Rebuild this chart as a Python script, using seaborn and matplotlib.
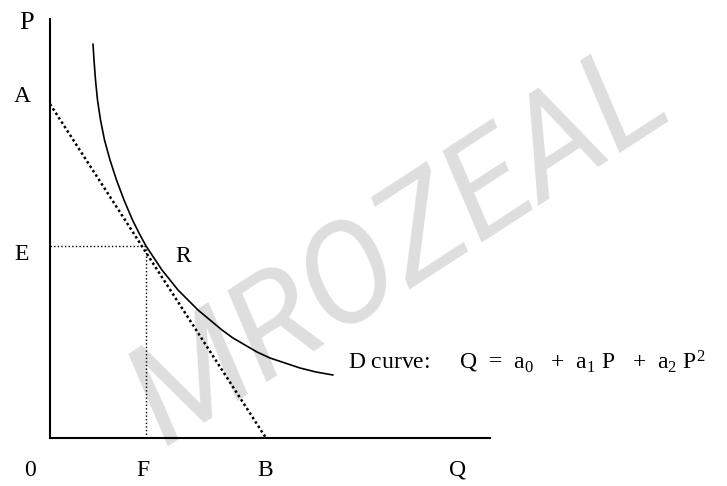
import matplotlib
matplotlib.use("Agg")
import matplotlib.pyplot as plt
import pandas as pd
import seaborn as sns

# Demand curve D, read as (quantity, price) pairs
demand_q = [4.30, 4.40, 4.55, 4.75, 5.05, 5.45, 6.00, 6.65, 7.40, 8.25, 8.90, 9.60,
            10.40, 11.20, 12.00, 12.80, 13.80, 14.80, 16.00, 17.20, 18.30, 19.50,
            20.70, 22.00, 23.50, 25.00, 26.60, 28.30]
demand_p = [39.4, 37.8, 35.8, 33.8, 31.8, 29.8, 27.8, 25.8, 23.8, 21.8, 20.5, 19.2,
            18.0, 16.8, 15.8, 14.8, 13.8, 12.8, 11.8, 10.8, 10.0, 9.3,
            8.6, 8.0, 7.5, 7.0, 6.6, 6.3]

# Tangent line through R: price intercept A, quantity intercept B
price_a = 33.4
quantity_b = 21.6

# Point R on the curve: price E, quantity F
price_e = 19.2
quantity_f = 9.6

# Axis extents
q_max = 44.0
p_max = 41.9

sns.set_theme(style="white")
plt.rcParams["font.family"] = ["Liberation Serif", "DejaVu Serif"]
plt.rcParams["mathtext.fontset"] = "custom"
plt.rcParams["mathtext.rm"] = "Liberation Serif"
plt.rcParams["mathtext.it"] = "Liberation Serif:italic"

fig = plt.figure(figsize=(7.27, 4.86), dpi=100)
ax = fig.add_axes([50 / 727, 48 / 486, 440 / 727, 419 / 486])
ax.set_zorder(2)
ax.set_xlim(0, q_max)
ax.set_ylim(0, p_max)

# faint watermark behind the diagram
fig.text(0.55, 0.49, "MROZEAL", color="#dedede", fontsize=100, rotation=33,
         ha="center", va="center", family="Roboto", fontweight="normal",
         style="italic", zorder=0)

curve = pd.DataFrame({"Q": demand_q, "P": demand_p})
sns.lineplot(data=curve, x="Q", y="P", sort=False, color="black", lw=1.2, ax=ax,
             estimator=None, zorder=3, solid_joinstyle="round")

# tangent line A-B
sns.lineplot(x=[0, quantity_b], y=[price_a, 0], color="black", lw=1.8,
             linestyle=(0, (1, 1.1)), ax=ax, zorder=3, clip_on=False)

# guide lines from R to the axes
ax.plot([0, quantity_f], [price_e, price_e], color="black", lw=1.0,
        linestyle=(0, (1, 1.6)), zorder=2)
ax.plot([quantity_f, quantity_f], [0, price_e], color="black", lw=1.0,
        linestyle=(0, (1, 1.6)), zorder=2)

for side in ["top", "right"]:
    ax.spines[side].set_visible(False)
for side in ["left", "bottom"]:
    ax.spines[side].set_color("black")
    ax.spines[side].set_linewidth(1.5)
ax.set_xticks([])
ax.set_yticks([])
ax.set_xlabel("")
ax.set_ylabel("")
ax.patch.set_alpha(0)

fs = 17
lab = dict(fontsize=fs, color="black", ha="center", va="center", clip_on=False)
ax.text(-2.3, 41.5, "P", **{**lab, "fontsize": 19})
ax.text(-2.8, price_a + 0.7, "A", **lab)
ax.text(-2.8, price_e - 0.8, "E", **lab)
ax.text(13.3, price_e - 1.0, "R", **lab)
ax.text(-2.0, -3.2, "0", **lab)
ax.text(quantity_f - 0.3, -3.2, "F", **lab)
ax.text(quantity_b - 0.1, -3.2, "B", **lab)
ax.text(40.8, -3.2, "Q", **lab)
ax.text(29.8, 7.6,
        r"D curve:     Q  =  a$_0$   +  a$_1$ P   +  a$_2$ P$^2$",
        fontsize=17, color="black", ha="left", va="center", clip_on=False)

fig.savefig("out.png", dpi=100, facecolor="white")
